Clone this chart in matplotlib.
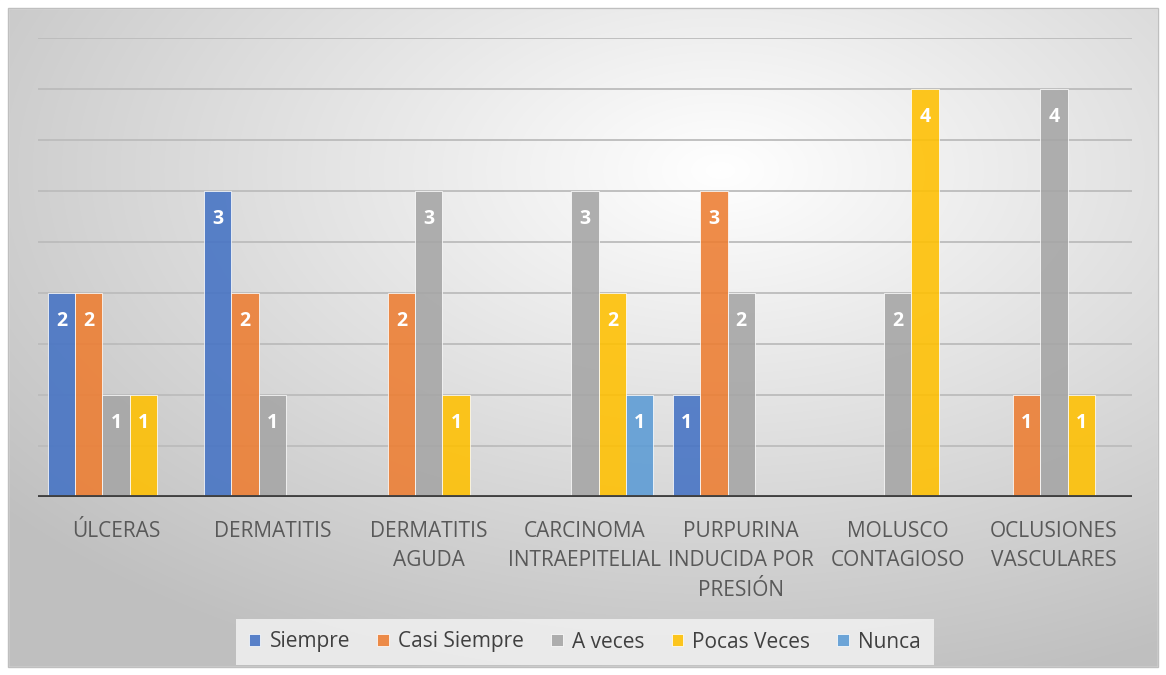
import numpy as np
import matplotlib.pyplot as plt
from matplotlib.patches import Rectangle

categorias = ["ÚLCERAS", "DERMATITIS", "DERMATITIS\nAGUDA", "CARCINOMA\nINTRAEPITELIAL",
              "PURPURINA\nINDUCIDA POR\nPRESIÓN", "MOLUSCO\nCONTAGIOSO", "OCLUSIONES\nVASCULARES"]
series = ["Siempre", "Casi Siempre", "A veces", "Pocas Veces", "Nunca"]
siempre = [2, 3, 0, 0, 1, 0, 0]
casi_siempre = [2, 2, 2, 0, 3, 0, 1]
a_veces = [1, 1, 3, 3, 2, 2, 4]
pocas_veces = [1, 0, 1, 2, 0, 4, 1]
nunca = [0, 0, 0, 1, 0, 0, 0]
valores = [siempre, casi_siempre, a_veces, pocas_veces, nunca]
colores = ["#4472C4", "#ED7D31", "#A5A5A5", "#FFC000", "#5B9BD5"]

plt.rcParams['font.family'] = ['Open Sans', 'DejaVu Sans']

fig = plt.figure(figsize=(11.66, 6.75), dpi=100)

# fondo con degradado radial
bg = fig.add_axes([0, 0, 1, 1], zorder=-10)
yy, xx = np.mgrid[0:675, 0:1166]
r = np.sqrt(((xx - 720) / 1166.0) ** 2 + ((yy - 170) / 675.0) ** 2)
r = np.clip(r / 0.8, 0, 1)
g = 1.0 - 0.25 * r
img = np.dstack([g, g, g])
bg.imshow(img, extent=[0, 1166, 675, 0], aspect='auto')
bg.add_patch(Rectangle((0, 0), 1166, 8, color='white'))
bg.add_patch(Rectangle((0, 667), 1166, 8, color='white'))
bg.add_patch(Rectangle((0, 0), 8, 675, color='white'))
bg.add_patch(Rectangle((1158, 0), 8, 675, color='white'))
bg.add_patch(Rectangle((8, 8), 1150, 659, fill=False, ec='#bfbfbf', lw=1))
bg.set_xlim(0, 1166)
bg.set_ylim(675, 0)
bg.axis('off')

ax = fig.add_axes([38 / 1166, 1 - 497 / 675, 1094 / 1166, 459 / 675])
ax.patch.set_alpha(0)
x = np.arange(len(categorias))
w = 0.175
for i, (nombre, vals, c) in enumerate(zip(series, valores, colores)):
    pos = x - 2 * w + i * w
    bars = ax.bar(pos, vals, w, color=c, alpha=0.88, edgecolor='white', linewidth=0.6,
                  label=nombre, zorder=3)
    for b, v in zip(bars, vals):
        if v > 0:
            ax.text(b.get_x() + b.get_width() / 2, v - 0.27, str(v), ha='center', va='center',
                    color='white', fontsize=14, fontweight='bold', zorder=4)

ax.set_xlim(-0.5, len(categorias) - 0.5)
ax.set_ylim(0, 4.5)
for yv in np.arange(0.5, 4.51, 0.5):
    ax.axhline(yv, color='#bcbcbc', lw=1.3, zorder=1)
ax.axhline(0, color='#404040', lw=3.5, zorder=5)
for s in ax.spines.values():
    s.set_visible(False)
ax.set_yticks([])
ax.set_xticks(x)
ax.set_xticklabels(categorias, fontsize=15, color='#595959', linespacing=1.55)
ax.tick_params(axis='x', length=0, pad=17)

leg = fig.legend(loc='center', bbox_to_anchor=(585 / 1166, 1 - 642 / 675), ncol=5,
                 frameon=True, fontsize=15, handlelength=0.55, handleheight=0.55,
                 handletextpad=0.45, columnspacing=1.3, borderpad=0.6, borderaxespad=0,
                 fancybox=False)
leg.get_frame().set_facecolor('#f4f4f4')
leg.get_frame().set_alpha(0.8)
leg.get_frame().set_edgecolor('none')
for t in leg.get_texts():
    t.set_color('#404040')

fig.savefig('out.png', dpi=100)
